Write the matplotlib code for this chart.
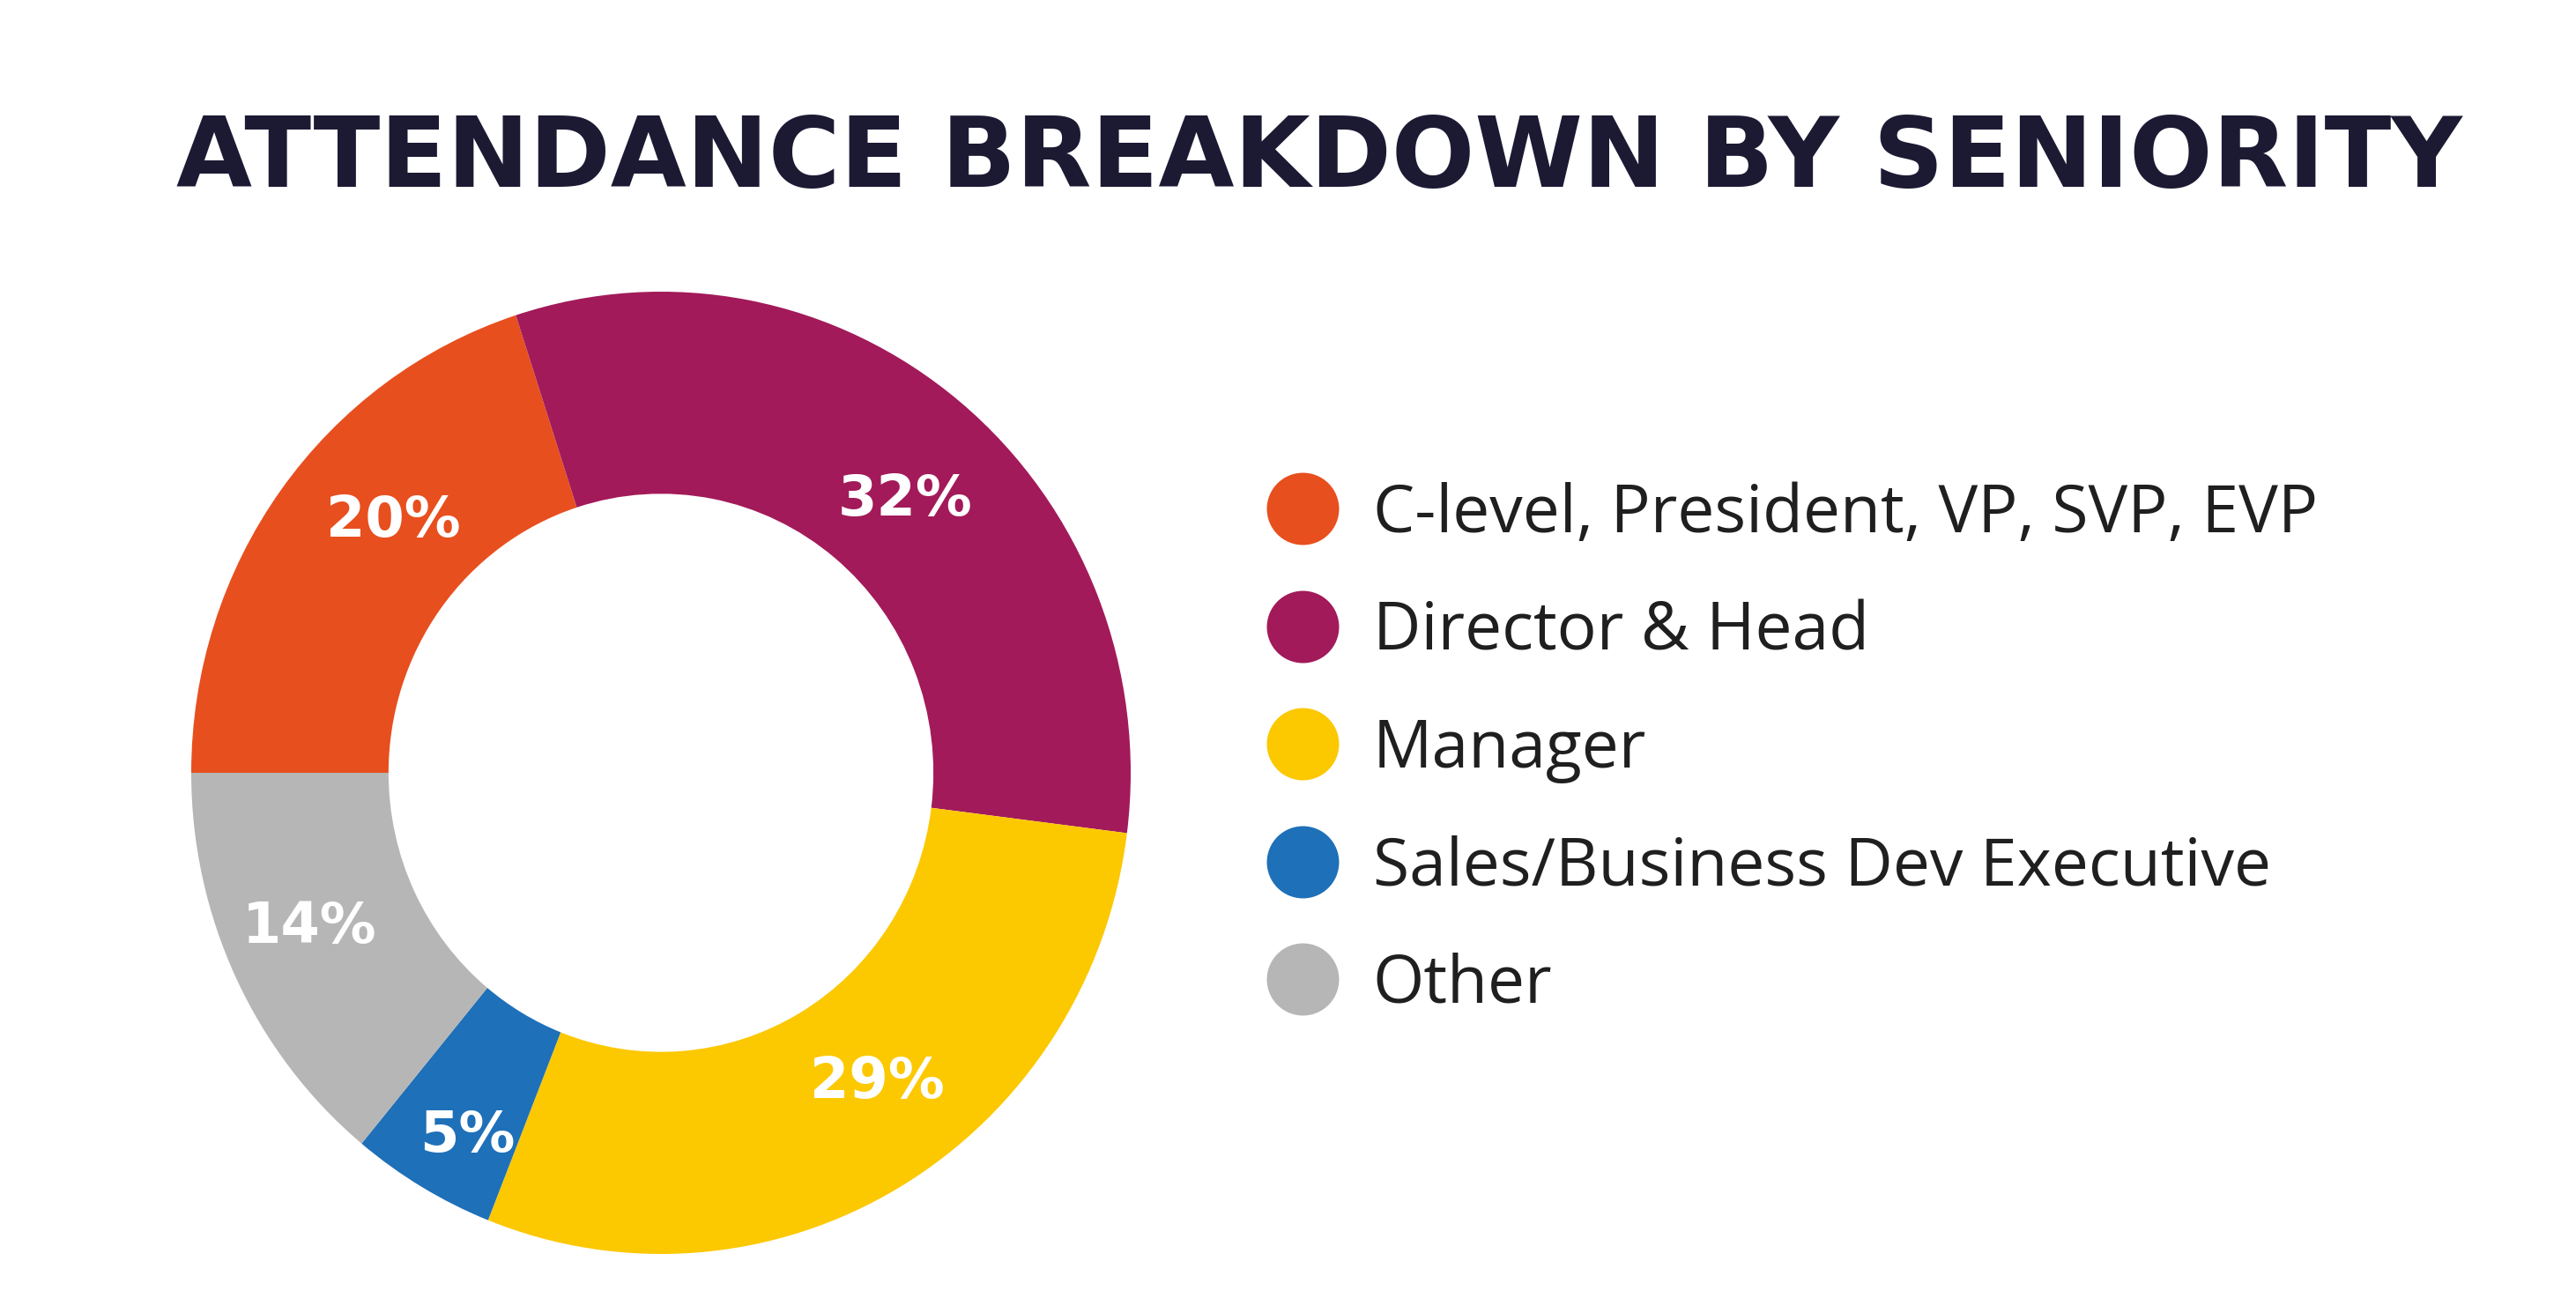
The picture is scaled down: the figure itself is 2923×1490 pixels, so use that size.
import numpy as np
import matplotlib.pyplot as plt
from matplotlib.lines import Line2D

# data
categories = ["C-level, President, VP, SVP, EVP", "Director & Head", "Manager",
              "Sales/Business Dev Executive", "Other"]
shares = [20, 32, 29, 5, 14]
colors = ["#E84F1E", "#A21A5A", "#FCC800", "#1E70B8", "#B6B6B6"]
title = "ATTENDANCE BREAKDOWN BY SENIORITY"

# small nudges of the % labels (degrees, radius) to follow the original layout
label_turn = [-6.6, -2.9, 5, 2, -2]
label_dist = [0.773, 0.77, 0.79, 0.86, 0.815]

W, H = 2923, 1490
fig = plt.figure(figsize=(W / 100, H / 100), dpi=100)

# donut axes (the original is very slightly squashed sideways)
cx, cy, rx, ry = 750, 877, 533, 546
ax = fig.add_axes([(cx - rx) / W, (H - cy - ry) / H, 2 * rx / W, 2 * ry / H])
wedges, texts = ax.pie(
    shares, colors=colors, startangle=180, counterclock=False,
    radius=1, wedgeprops=dict(width=0.42, linewidth=0))
ax.set_xlim(-1, 1)
ax.set_ylim(-1, 1)
ax.set_aspect("auto")

for w, v, dt, d in zip(wedges, shares, label_turn, label_dist):
    a = np.deg2rad((w.theta1 + w.theta2) / 2 + dt)
    ax.text(d * np.cos(a), d * np.sin(a), f"{v}%", ha="center", va="center",
            color="white", fontsize=46, fontweight="bold", family="DejaVu Sans")

fig.text(1497 / W, 1 - 182 / H, title, ha="center", va="center",
         fontsize=80, fontweight="bold", color="#1C1A33", family="DejaVu Sans")

handles = [Line2D([], [], linestyle="none", marker="o", markersize=59,
                  markerfacecolor=c, markeredgewidth=0) for c in colors]
leg = fig.legend(handles, categories, loc="center left",
                 bbox_to_anchor=(1440 / W, 1 - 851 / H), frameon=False,
                 prop=dict(family="Open Sans", size=54, weight="normal"),
                 labelspacing=0.78, handlelength=1.0, handletextpad=0.57,
                 borderpad=0, borderaxespad=0)
for t in leg.get_texts():
    t.set_color("#1F1F1F")

fig.savefig("out.png", dpi=100, facecolor="white")
